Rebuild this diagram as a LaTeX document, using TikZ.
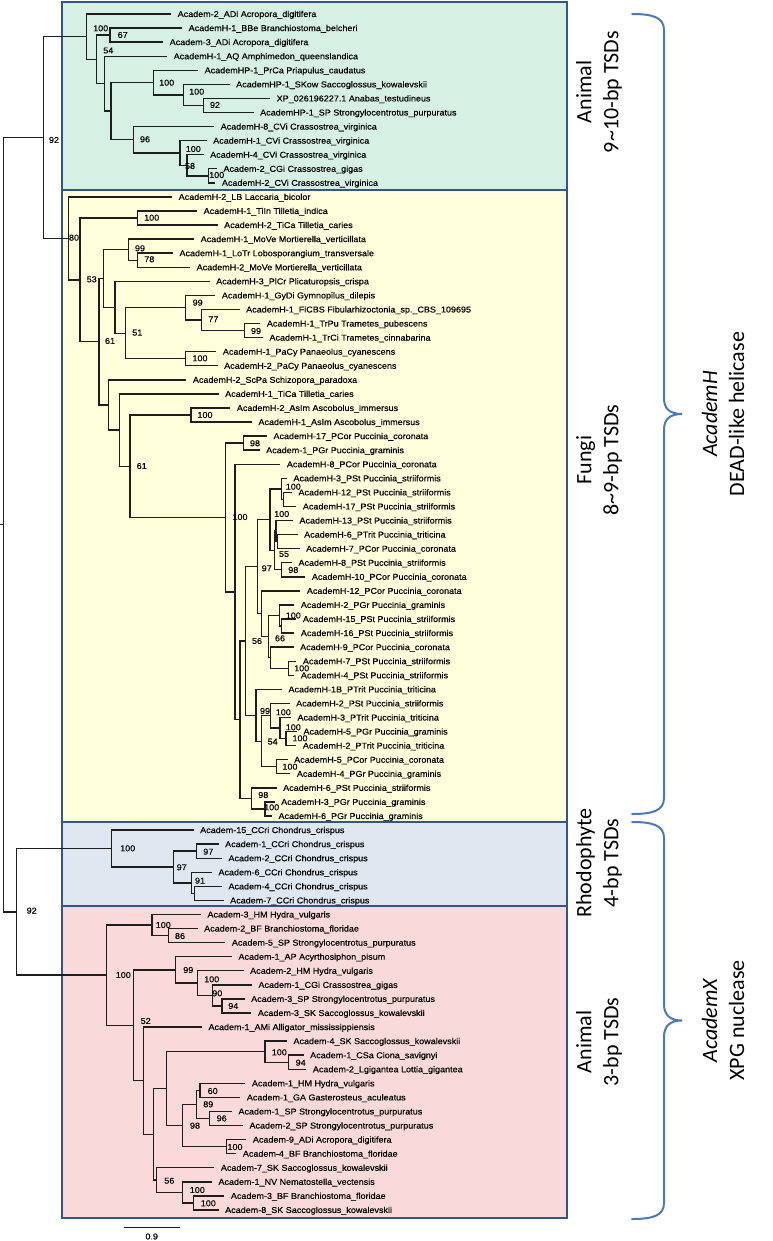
\documentclass[tikz,border=0pt]{standalone}
\usepackage{fontspec}
\setmainfont{Liberation Sans}[FakeStretch=1.06, FakeBold=0.3]
\newfontfamily\grpfamily{Carlito}
\usetikzlibrary{calc}
\definecolor{boxblue}{HTML}{34548C}
\definecolor{bracblue}{HTML}{4A78C2}
\definecolor{animalgreen}{HTML}{D7F0E4}
\definecolor{fungiyellow}{HTML}{FFFFDC}
\definecolor{rhodoblue}{HTML}{E1E7F1}
\definecolor{animalpink}{HTML}{F9D9D9}
\definecolor{branchgray}{HTML}{1E1E1E}
\newcommand{\leaffont}{\fontsize{8.5}{9}\selectfont}
\newcommand{\grpfont}{\grpfamily\fontsize{22}{27}\selectfont}
% clade: name, x, top child, bottom child
\newcommand{\mkclade}[4]{%
  \path let \p1=($(#3)!0.5!(#4)$) in coordinate (#1) at (#2pt,\y1);
  \draw[branch] (#3) -| (#1) |- (#4);}

\begin{document}
\begin{tikzpicture}[x=1pt, y=-1pt,
		branch/.style={draw=branchgray, line width=1.4pt},
		leaf/.style={anchor=west, font=\leaffont, inner xsep=6.5pt, inner ysep=0pt,
			text height=6pt, text depth=0pt},
		boot/.style={font=\leaffont, inner sep=0pt},
		cladebox/.style={draw=boxblue, line width=2.6pt},
		group/.style={font=\grpfont, align=center, inner sep=0pt, rotate=90},
		brace/.style={draw=bracblue, line width=2pt, line cap=round}
		]
		\useasboundingbox (0,0) rectangle (772,1241);
		
		% clade boxes
		\draw[cladebox, fill=animalgreen] (62,2) rectangle (567,190);
		\draw[cladebox, fill=fungiyellow] (62,190) rectangle (567,822);
		\draw[cladebox, fill=rhodoblue] (62,822) rectangle (567,906);
		\draw[cladebox, fill=animalpink] (62,906) rectangle (567,1218);
		
		% leaves
		\foreach \tx/\txt [count=\i] in {
			171/{Academ-2\_ADi Acropora\_digitifera},
			182/{AcademH-1\_BBe Branchiostoma\_belcheri},
			163/{Academ-3\_ADi Acropora\_digitifera},
			167/{AcademH-1\_AQ Amphimedon\_queenslandica},
			198/{AcademHP-1\_PrCa Priapulus\_caudatus},
			229.5/{AcademHP-1\_SKow Saccoglossus\_kowalevskii},
			270/{XP\_026196227.1 Anabas\_testudineus},
			253.5/{AcademHP-1\_SP Strongylocentrotus\_purpuratus},
			214/{AcademH-8\_CVi Crassostrea\_virginica},
			206.5/{AcademH-1\_CVi Crassostrea\_virginica},
			203.5/{AcademH-4\_CVi Crassostrea\_virginica},
			216.8/{Academ-2\_CGi Crassostrea\_gigas},
			215.2/{AcademH-2\_CVi Crassostrea\_virginica},
			172/{AcademH-2\_LB Laccaria\_bicolor},
			197/{AcademH-1\_TiIn Tilletia\_indica},
			217.5/{AcademH-2\_TiCa Tilletia\_caries},
			194/{AcademH-1\_MoVe Mortierella\_verticillata},
			172.8/{AcademH-1\_LoTr Lobosporangium\_transversale},
			190/{AcademH-2\_MoVe Mortierella\_verticillata},
			209.5/{AcademH-3\_PlCr Plicaturopsis\_crispa},
			215.2/{AcademH-1\_GyDi Gymnopilus\_dilepis},
			239.5/{AcademH-1\_FiCBS Fibularhizoctonia\_sp.\_CBS\_109695},
			260.2/{AcademH-1\_TrPu Trametes\_pubescens},
			262.8/{AcademH-1\_TrCi Trametes\_cinnabarina},
			216.2/{AcademH-1\_PaCy Panaeolus\_cyanescens},
			217.5/{AcademH-2\_PaCy Panaeolus\_cyanescens},
			186.2/{AcademH-2\_ScPa Schizopora\_paradoxa},
			218.5/{AcademH-1\_TiCa Tilletia\_caries},
			230.2/{AcademH-2\_AsIm Ascobolus\_immersus},
			251.8/{AcademH-1\_AsIm Ascobolus\_immersus},
			266.8/{AcademH-17\_PCor Puccinia\_coronata},
			259.5/{Academ-1\_PGr Puccinia\_graminis},
			280.2/{AcademH-8\_PCor Puccinia\_coronata},
			286.8/{AcademH-3\_PSt Puccinia\_striiformis},
			291.8/{AcademH-12\_PSt Puccinia\_striiformis},
			296.2/{AcademH-17\_PSt Puccinia\_striiformis},
			292.8/{AcademH-13\_PSt Puccinia\_striiformis},
			297.5/{AcademH-6\_PTrit Puccinia\_triticina},
			299.5/{AcademH-7\_PCor Puccinia\_coronata},
			291.8/{AcademH-8\_PSt Puccinia\_striiformis},
			305.2/{AcademH-10\_PCor Puccinia\_coronata},
			300.2/{AcademH-12\_PCor Puccinia\_coronata},
			294.2/{AcademH-2\_PGr Puccinia\_graminis},
			296.2/{AcademH-15\_PSt Puccinia\_striiformis},
			294.2/{AcademH-16\_PSt Puccinia\_striiformis},
			293.5/{AcademH-9\_PCor Puccinia\_coronata},
			296.2/{AcademH-7\_PSt Puccinia\_striiformis},
			294.2/{AcademH-4\_PSt Puccinia\_striiformis},
			281.8/{AcademH-1B\_PTrit Puccinia\_triticina},
			289.5/{AcademH-2\_PSt Puccinia\_striiformis},
			290.8/{AcademH-3\_PTrit Puccinia\_triticina},
			296.8/{AcademH-5\_PGr Puccinia\_graminis},
			296.2/{AcademH-2\_PTrit Puccinia\_triticina},
			287.5/{AcademH-5\_PCor Puccinia\_coronata},
			290.2/{AcademH-4\_PGr Puccinia\_graminis},
			276.5/{AcademH-6\_PSt Puccinia\_striiformis},
			274.5/{AcademH-3\_PGr Puccinia\_graminis},
			271.8/{AcademH-6\_PGr Puccinia\_graminis},
			193.5/{Academ-15\_CCri Chondrus\_crispus},
			218.5/{Academ-1\_CCri Chondrus\_crispus},
			221.8/{Academ-2\_CCri Chondrus\_crispus},
			211.8/{Academ-6\_CCri Chondrus\_crispus},
			221.8/{Academ-4\_CCri Chondrus\_crispus},
			223.5/{Academ-7\_CCri Chondrus\_crispus},
			200.8/{Academ-3\_HM Hydra\_vulgaris},
			197.5/{Academ-2\_BF Branchiostoma\_floridae},
			225.2/{Academ-5\_SP Strongylocentrotus\_purpuratus},
			231.8/{Academ-1\_AP Acyrthosiphon\_pisum},
			243.5/{Academ-2\_HM Hydra\_vulgaris},
			251.8/{Academ-1\_CGi Crassostrea\_gigas},
			244.5/{Academ-3\_SP Strongylocentrotus\_purpuratus},
			251.2/{Academ-3\_SK Saccoglossus\_kowalevskii},
			201.8/{Academ-1\_AMi Alligator\_mississippiensis},
			286.8/{Academ-4\_SK Saccoglossus\_kowalevskii},
			303.5/{Academ-1\_CSa Ciona\_savignyi},
			306.2/{Academ-2\_Lgigantea Lottia\_gigantea},
			245.2/{Academ-1\_HM Hydra\_vulgaris},
			240.2/{Academ-1\_GA Gasterosteus\_aculeatus},
			231.8/{Academ-1\_SP Strongylocentrotus\_purpuratus},
			242.8/{Academ-2\_SP Strongylocentrotus\_purpuratus},
			246.2/{Academ-9\_ADi Acropora\_digitifera},
			236.2/{Academ-4\_BF Branchiostoma\_floridae},
			214.2/{Academ-7\_SK Saccoglossus\_kowalevskii},
			211.8/{Academ-1\_NV Nematostella\_vectensis},
			224.2/{Academ-3\_BF Branchiostoma\_floridae},
			218.5/{Academ-8\_SK Saccoglossus\_kowalevskii}}{
			\coordinate (t\i) at (\tx,{14+(\i-1)*14.07});
			\node[leaf] (l\i) at (t\i) {\txt};
		}
		
		% AcademH, animal clade
		\mkclade{c12}{208.3}{t12}{t13}
		\mkclade{c11}{187}{t11}{c12}
		\mkclade{c10}{180}{t10}{c11}
		\mkclade{c9}{133.3}{t9}{c10}
		\mkclade{c8}{203.3}{t7}{t8}
		\mkclade{c7}{183.3}{t6}{c8}
		\mkclade{c6}{153.3}{t5}{c7}
		\mkclade{c5}{111}{c6}{c9}
		\mkclade{c4}{104.3}{t4}{c5}
		\mkclade{c3}{110}{t2}{t3}
		\mkclade{c2}{96.7}{c3}{c4}
		\mkclade{c1}{86.7}{t1}{c2}
		
		% AcademH, fungal clade
		\mkclade{ti}{137.7}{t15}{t16}
		\mkclade{mo2}{137.7}{t18}{t19}
		\mkclade{mo}{128.3}{t17}{mo2}
		\mkclade{tr}{244.3}{t23}{t24}
		\mkclade{f8}{201.7}{t22}{tr}
		\mkclade{f7}{185.7}{t21}{f8}
		\mkclade{pa}{185.7}{t25}{t26}
		\mkclade{f6}{125.7}{f7}{pa}
		\mkclade{f5}{115}{t20}{f6}
		\mkclade{f4}{103.3}{mo}{f5}
		\mkclade{asc}{191}{t29}{t30}
		\mkclade{pc1}{243.3}{t31}{t32}
		\mkclade{pk2}{283.3}{t35}{t36}
		\mkclade{pk}{281.7}{t34}{pk2}
		\mkclade{pt2}{277.3}{t38}{t39}
		\mkclade{pt}{276}{t37}{pt2}
		\mkclade{pu}{281.7}{t40}{t41}
		\mkclade{pv}{274.3}{pt}{pu}
		\mkclade{ps}{270}{pk}{pv}
		\mkclade{py2}{281.7}{t44}{t45}
		\mkclade{py1}{279.3}{t43}{py2}
		\mkclade{pz2}{288.3}{t47}{t48}
		\mkclade{pz1}{270.7}{t46}{pz2}
		\mkclade{pz}{268.3}{py1}{pz1}
		\mkclade{pw}{261.7}{t42}{pz}
		\mkclade{pr}{257.7}{ps}{pw}
		\mkclade{px4}{286}{t52}{t53}
		\mkclade{px3}{280}{t51}{px4}
		\mkclade{px2}{270.7}{t50}{px3}
		\mkclade{pxp}{276.7}{t54}{t55}
		\mkclade{px1}{261.7}{px2}{pxp}
		\mkclade{px}{256}{t49}{px1}
		\mkclade{pn}{245.7}{pr}{px}
		\mkclade{pq2}{265}{t57}{t58}
		\mkclade{pq}{251.7}{t56}{pq2}
		\mkclade{pc3}{240}{pn}{pq}
		\mkclade{pc2}{235}{t33}{pc3}
		\mkclade{puc}{225.7}{pc1}{pc2}
		\mkclade{f11}{130}{asc}{puc}
		\mkclade{f10}{119.3}{t28}{f11}
		\mkclade{f9}{108.5}{t27}{f10}
		\mkclade{f3}{99}{f4}{f9}
		\mkclade{f2}{80}{ti}{f3}
		\mkclade{f1}{68.3}{t14}{f2}
		\mkclade{hel}{43.3}{c1}{f1}
		
		% AcademX, rhodophyte clade
		\mkclade{rh5}{194.3}{t63}{t64}
		\mkclade{rh4}{191.7}{t62}{rh5}
		\mkclade{rh3}{196.7}{t60}{t61}
		\mkclade{rh2}{173.3}{rh3}{rh4}
		\mkclade{rh1}{111.7}{t59}{rh2}
		
		% AcademX, animal clade
		\mkclade{h2}{168.3}{t66}{t67}
		\mkclade{h1}{152}{t65}{h2}
		\mkclade{an8}{222}{t71}{t72}
		\mkclade{an7}{212.3}{t70}{an8}
		\mkclade{an6}{197.7}{t69}{an7}
		\mkclade{an4}{175.7}{t68}{an6}
		\mkclade{an14}{288.3}{t75}{t76}
		\mkclade{an12}{265}{t74}{an14}
		\mkclade{an17}{200}{t77}{t78}
		\mkclade{an18}{209.3}{t79}{t80}
		\mkclade{an15}{196.7}{an17}{an18}
		\mkclade{an16}{226.7}{t81}{t82}
		\mkclade{an13}{182.3}{an15}{an16}
		\mkclade{an10}{166.7}{an12}{an13}
		\mkclade{an20}{193.3}{t85}{t86}
		\mkclade{an19}{182.7}{t84}{an20}
		\mkclade{an11}{156.7}{t83}{an19}
		\mkclade{an9}{153.3}{an10}{an11}
		\mkclade{an5}{143.3}{t73}{an9}
		\mkclade{an3}{133.3}{an4}{an5}
		\mkclade{an2}{106.7}{h1}{an3}
		\mkclade{nuc}{16.7}{rh1}{an2}
		
		% root
		\mkclade{root}{3.3}{hel}{nuc}
		\path (root) ++(-3.3,0) coordinate (rootstub);
		\draw[branch] (rootstub) -- (root);
		
		% bootstrap values
		\foreach \bx/\by/\bv [count=\j] in {
			100.7/28.3/100, 122.7/35/67, 108.3/50.5/54, 166.7/82.7/100,
			196.7/91.7/100, 215/105/92, 145/139.3/96, 193.3/149/100,
			190/166/58, 216.7/175/100, 54/140/92, 74/237.7/80,
			151.7/217.7/100, 140/248.3/99, 149.3/259.3/78, 91.7/279.3/53,
			197.7/302.7/99, 213.3/319.3/77, 256/331/99, 137.3/332.7/51,
			110/341/61, 200/358.3/100, 205/415/100, 255/443.3/98,
			141.7/466/61, 240/517/100, 293.3/486.7/100, 281.7/514/100,
			284/554/55, 266.7/568.3/97, 293.3/570/98, 293.3/615.5/100,
			280/638.3/66, 257/641/56, 301.7/668.3/100, 265/711/99,
			283.3/712.3/100, 293.3/727.3/100, 300/738.3/100, 272.7/741.7/54,
			290/766.7/100, 263.3/795/98, 271.7/807.3/100,
			127.7/848.3/100, 181.7/867.3/97, 208.3/851.7/97, 200/880.7/91,
			31.7/910.7/92, 123.3/975/100, 163.3/925/100, 180/936/86,
			188.3/970/99, 211.7/979.3/100, 217.3/993.3/90, 233.3/1006/94,
			145.7/1021/52, 279.3/1052.3/100, 300.7/1062.7/94, 212.7/1091/60,
			208.3/1104.3/89, 221.7/1118.3/96, 195/1125.7/98, 235/1147/100,
			169.3/1180.7/56, 197.3/1190/100, 208.3/1203.3/100}{
			\node[boot] (b\j) at (\bx,\by) {\bv};
		}
		
		% scale bar
		\coordinate (sbl) at (124.3,1227.7);
		\coordinate (sbr) at (180,1227.7);
		\draw[branch] (sbl) -- (sbr);
		\node[boot] (sbtext) at (151.7,1236.5) {0.9};
		
		% group labels
		\node[group] (gAnimalH) at (599,92) {Animal\\9\textasciitilde10-bp TSDs};
		\node[group] (gFungi) at (599,460) {Fungi\\8\textasciitilde9-bp TSDs};
		\node[group] (gRhodo) at (599,863) {Rhodophyte\\4-bp TSDs};
		\node[group] (gAnimalX) at (599,1042) {Animal\\3-bp TSDs};
		
		% braces
		\draw[brace] (632,14) .. controls (652,14) and (664,17) .. (664,30)
		-- (664,398) .. controls (664,409) and (670,414) .. (682,414)
		.. controls (670,414) and (664,419) .. (664,430)
		-- (664,798) .. controls (664,811) and (652,814) .. (632,814);
		\draw[brace] (632,822) .. controls (652,822) and (664,825) .. (664,838)
		-- (664,1004) .. controls (664,1015) and (670,1020.5) .. (682,1020.5)
		.. controls (670,1020.5) and (664,1026) .. (664,1037)
		-- (664,1203) .. controls (664,1216) and (652,1219) .. (632,1219);
		
		\node[group] (famH) at (723,414) {\textit{AcademH}\\DEAD-like helicase};
		\node[group] (famX) at (723,1020.5) {\textit{AcademX}\\XPG nuclease};
		
	\end{tikzpicture}
\end{document}
